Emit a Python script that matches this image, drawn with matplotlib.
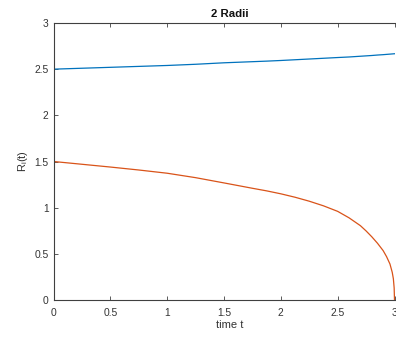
import numpy as np
import matplotlib
matplotlib.use("Agg")
import matplotlib.pyplot as plt

plt.rcParams['font.family'] = ['Liberation Sans', 'DejaVu Sans']
plt.rcParams['mathtext.fontset'] = 'custom'
plt.rcParams['mathtext.rm'] = 'Liberation Sans'
plt.rcParams['mathtext.it'] = 'Liberation Sans'

# values
t = [0.0, 0.25, 0.5, 0.75, 1.0, 1.25, 1.5, 1.75, 1.875, 2.0, 2.125, 2.25,
     2.375, 2.5, 2.6, 2.7, 2.75, 2.8, 2.85, 2.9, 2.93, 2.96, 2.98, 2.99,
     2.997, 3.0]
r_big = [2.500, 2.510, 2.520, 2.530, 2.540, 2.553, 2.569, 2.581, 2.587,
         2.594, 2.602, 2.610, 2.618, 2.626, 2.632, 2.640, 2.644, 2.648,
         2.653, 2.657, 2.660, 2.663, 2.665, 2.666, 2.667, 2.667]
r_small = [1.50, 1.47, 1.44, 1.408, 1.373, 1.325, 1.268, 1.21, 1.182,
           1.15, 1.113, 1.07, 1.02, 0.96, 0.89, 0.805, 0.748, 0.685,
           0.615, 0.535, 0.47, 0.39, 0.30, 0.23, 0.13, 0.0]

xticks = [0, 0.5, 1, 1.5, 2, 2.5, 3]
yticks = [0, 0.5, 1, 1.5, 2, 2.5, 3]
xticklabels = ['0', '0.5', '1', '1.5', '2', '2.5', '3']
yticklabels = ['0', '0.5', '1', '1.5', '2', '2.5', '3']

fig = plt.figure(figsize=(3.96, 3.37), dpi=100)
ax = fig.add_axes([53.5 / 396, 37 / 337, 341 / 396, 277 / 337])

ax.plot(t, r_big, color='#0072BD', lw=0.9)
ax.plot(t, r_small, color='#D95319', lw=0.9)

ax.set_xlim(0, 3)
ax.set_ylim(0, 3)
ax.set_xticks(xticks)
ax.set_xticklabels(xticklabels)
ax.set_yticks(yticks)
ax.set_yticklabels(yticklabels)

axcol = '#404040'
for s in ax.spines.values():
    s.set_color(axcol)
    s.set_linewidth(0.8)
ax.spines['right'].set_visible(False)  # cropped off in the reference
ax.tick_params(direction='in', length=3, width=0.6, color=axcol,
               labelcolor='#333333', labelsize=7.4, top=True, right=False)
ax.tick_params(axis='x', pad=5.5)
ax.tick_params(axis='y', pad=3.5)

ax.set_title('2 Radii', fontsize=8.2, fontweight='bold', color='#111111',
             x=0.517, pad=4)
ax.set_xlabel('time t', fontsize=8, color='#333333', labelpad=1.5, x=0.517)
ax.set_ylabel('$R_i$(t)', fontsize=8, color='#333333', labelpad=3.5)

fig.savefig('out.png', dpi=100)
